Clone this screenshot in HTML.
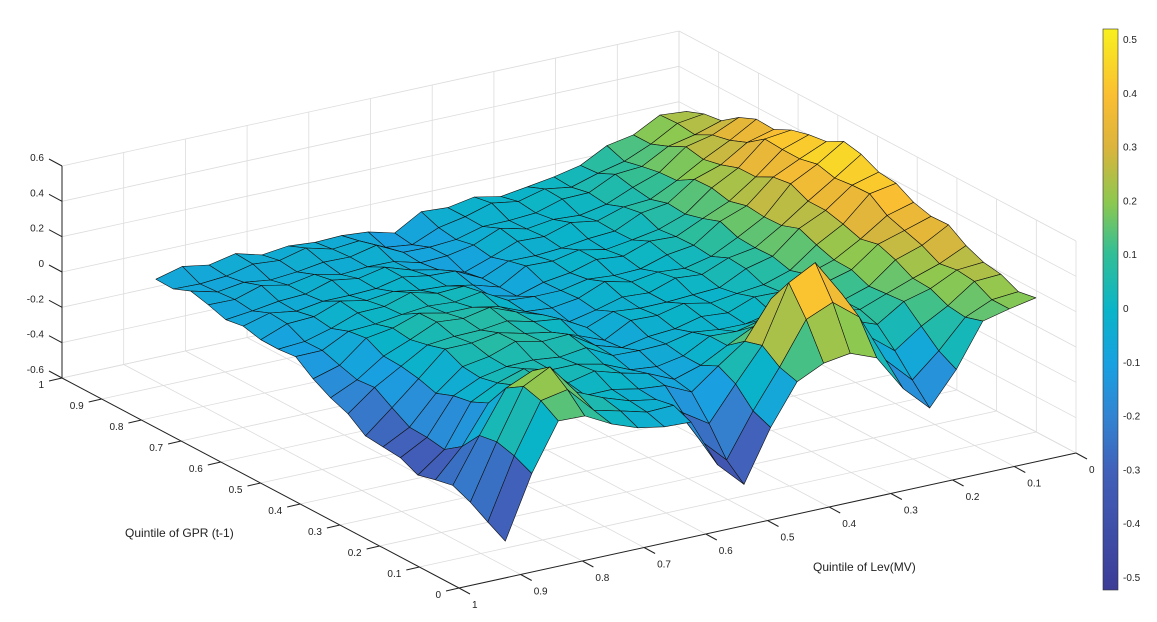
<!DOCTYPE html>
<html><head><meta charset="utf-8"><style>
html,body{margin:0;padding:0;background:#fff;}
svg{display:block;font-family:"Liberation Sans",sans-serif;}
</style></head><body>
<svg id="s" width="1157" height="622" viewBox="0 0 1157 622" xmlns="http://www.w3.org/2000/svg">
<defs><linearGradient id="cb" x1="0" y1="1" x2="0" y2="0">
<stop offset="0" stop-color="#3c3c96"/><stop offset="0.21" stop-color="#4160b9"/>
<stop offset="0.31" stop-color="#3284d2"/><stop offset="0.40" stop-color="#19a0e1"/>
<stop offset="0.50" stop-color="#0ab4c8"/><stop offset="0.60" stop-color="#32be96"/>
<stop offset="0.69" stop-color="#8cc850"/><stop offset="0.79" stop-color="#dcb43c"/>
<stop offset="0.88" stop-color="#fabe32"/><stop offset="1" stop-color="#f8f01e"/>
</linearGradient></defs>
<g id="grid" stroke="#dcdcdc" stroke-width="0.8" fill="none"></g>
<g id="surf" stroke="#111" stroke-width="0.6" stroke-linejoin="round"></g>
<g id="axes" stroke="#222" stroke-width="1" fill="none"></g>
<g id="lab" font-size="10" fill="#222"></g>
<rect x="1103" y="29" width="15" height="561" fill="url(#cb)" stroke="#333" stroke-width="0.6"/>
<g id="cbt" font-size="10" fill="#222"></g>
<text x="125" y="537" font-size="12" fill="#222">Quintile of GPR (t-1)</text>
<text x="813" y="571" font-size="12" fill="#222">Quintile of Lev(MV)</text>
</svg>
<script>
var NS="http://www.w3.org/2000/svg";
function P(g,l,z){var m=1-l;return [459-397*g+617*m, 588-210*g-135*m-(z+0.6)/1.2*212];}
function el(p,t,a){var e=document.createElementNS(NS,t);for(var k in a)e.setAttribute(k,a[k]);document.getElementById(p).appendChild(e);return e;}
function line(p,a,b){el(p,"line",{x1:a[0].toFixed(1),y1:a[1].toFixed(1),x2:b[0].toFixed(1),y2:b[1].toFixed(1)});}
function txt(p,x,y,s,anc){var e=el(p,"text",{x:x,y:y,"text-anchor":anc||"start"});e.textContent=s;}
for(var i=0;i<=10;i++){var v=i/10;
 line("grid",P(1,v,-0.6),P(1,v,0.6)); line("grid",P(v,0,-0.6),P(v,0,0.6));
 line("grid",P(v,0,-0.6),P(v,1,-0.6)); line("grid",P(0,v,-0.6),P(1,v,-0.6));}
for(var z=-0.6;z<=0.61;z+=0.2){line("grid",P(1,1,z),P(1,0,z));line("grid",P(1,0,z),P(0,0,z));}
function G(x,c,w){return Math.exp(-Math.pow((x-c)/w,2));}
function zf(g,l){var m=1-l;
 var z=-0.08+0.1*m;
 z+=0.48*G(l,0.0,0.16)*(0.35+0.65*G(g,0.55,0.3));
 z+=0.12*G(g,0.45,0.25)*G(l,0.68,0.18);
 z+=-0.08*G(l,0.5,0.05);
 var F=-0.4*G(l,0.9,0.05)-0.42*G(l,0.5,0.05)-0.35*G(l,0.19,0.05);
 z+=F*G(g,0.07,0.08);
 z+=0.35*G(l,0.78,0.07)*G(g,0.15,0.1);
 z+=0.55*G(l,0.33,0.07)*G(g,0.16,0.08);
 z+=-0.35*G(l,0.88,0.08)*G(g,0.3,0.25);
 z+=0.035*Math.sin(g*37+l*23)*Math.cos(l*41-g*13);
 return z;}
var stops=[[-0.53,[60,60,150]],[-0.31,[65,96,185]],[-0.2,[50,132,210]],[-0.1,[25,160,225]],[0,[10,180,200]],[0.1,[50,190,150]],[0.2,[140,200,80]],[0.3,[220,180,60]],[0.4,[250,190,50]],[0.52,[248,240,30]]];
function col(v){if(v<=stops[0][0])return stops[0][1];for(var i=1;i<stops.length;i++){if(v<=stops[i][0]){var a=stops[i-1],b=stops[i],t=(v-a[0])/(b[0]-a[0]);return [0,1,2].map(function(k){return Math.round(a[1][k]+t*(b[1][k]-a[1][k]));});}}return stops[stops.length-1][1];}
var N=20,G0=0.07,G1=0.95,L0=0.02,L1=0.88;
function gv(i){return G0+(G1-G0)*i/N;} function lv(j){return L0+(L1-L0)*j/N;}
var Z=[];for(var i=0;i<=N;i++){Z[i]=[];for(var j=0;j<=N;j++)Z[i][j]=zf(gv(i),lv(j));}
var q=[];for(var i=0;i<N;i++)for(var j=0;j<N;j++){var g=gv(i+0.5),l=lv(j+0.5);q.push([i,j,588-210*g-135*(1-l)]);}
q.sort(function(a,b){return a[2]-b[2];});
q.forEach(function(o){var i=o[0],j=o[1];var pts=[[i,j],[i+1,j],[i+1,j+1],[i,j+1]];var s="",zs=0;
 pts.forEach(function(p){var z=Z[p[0]][p[1]];zs+=z;var c=P(gv(p[0]),lv(p[1]),z);s+=c[0].toFixed(1)+","+c[1].toFixed(1)+" ";});
 var c=col(zs/4);el("surf","polygon",{points:s,fill:"rgb("+c.join(",")+")"});});
line("axes",P(1,1,-0.6),P(1,1,0.6));line("axes",P(0,1,-0.6),P(1,1,-0.6));line("axes",P(0,1,-0.6),P(0,0,-0.6));
for(var k=0;k<=6;k++){var z=-0.6+k*0.2;var a=P(1,1,z);line("axes",a,[a[0]-13,a[1]-7]);txt("lab",a[0]-18,a[1]-5,(Math.round(z*10)/10).toString(),"end");}
for(var k=0;k<=10;k++){var v=k/10;var a=P(v,1,-0.6);line("axes",a,[a[0]-13,a[1]+3]);txt("lab",a[0]-18,a[1]+10,v.toString(),"end");
 var b=P(0,v,-0.6);line("axes",b,[b[0]+11,b[1]+6]);txt("lab",b[0]+13,b[1]+20,v.toString(),"start");}
[0.5,0.4,0.3,0.2,0.1,0,-0.1,-0.2,-0.3,-0.4,-0.5].forEach(function(v){var y=308-v*538;line("axes",[1114,y],[1118,y]);line("axes",[1103,y],[1107,y]);txt("cbt",1123,y+4,v.toString());});
</script>
</body></html>
